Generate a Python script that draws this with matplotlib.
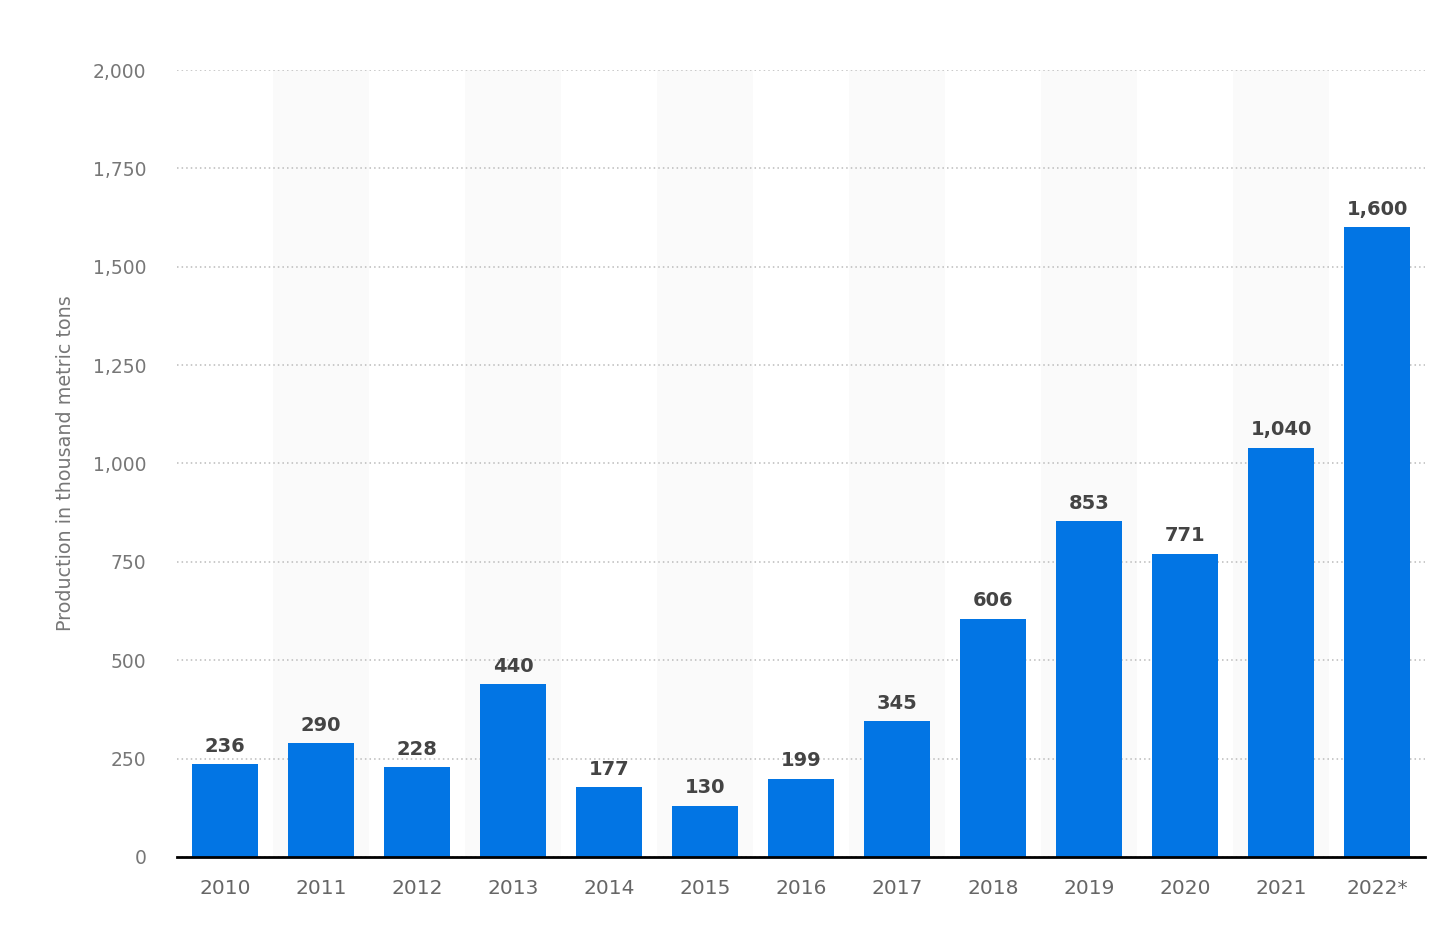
import matplotlib
matplotlib.use("Agg")
import matplotlib.pyplot as plt
from matplotlib.ticker import FuncFormatter

years = ["2010", "2011", "2012", "2013", "2014", "2015", "2016", "2017",
         "2018", "2019", "2020", "2021", "2022*"]
production = [236, 290, 228, 440, 177, 130, 199, 345, 606, 853, 771, 1040, 1600]
y_ticks = [0, 250, 500, 750, 1000, 1250, 1500, 1750, 2000]
y_label = "Production in thousand metric tons"

plt.rcParams['font.family'] = ['DejaVu Sans']

fig = plt.figure(figsize=(14.5, 9.46), dpi=100)
ax = fig.add_axes([0.1221, 0.0941, 0.8607, 0.8319])

x = list(range(len(years)))
# alternating background bands
for i in x:
    if i % 2 == 1:
        ax.axvspan(i - 0.5, i + 0.5, ymin=0, ymax=1, color="#fafafa", zorder=0, lw=0)

ax.set_ylim(0, 2000)
ax.set_xlim(-0.5, len(years) - 0.5)
ax.set_yticks(y_ticks)
ax.yaxis.set_major_formatter(FuncFormatter(lambda v, p: f"{int(v):,}"))
ax.grid(axis="y", linestyle=(0, (1, 2)), color="#bbbbbb", linewidth=1.1, zorder=1)
ax.set_axisbelow(True)

bars = ax.bar(x, production, width=0.69, color="#0275e4", zorder=3)
for xi, v in zip(x, production):
    ax.annotate(f"{v:,}", (xi, v), xytext=(0, 6), textcoords="offset points",
                ha="center", va="bottom", fontsize=14, fontweight="bold",
                color="#444444", zorder=4)

ax.set_xticks(x)
ax.set_xticklabels(years)
for s in ["top", "right", "left"]:
    ax.spines[s].set_visible(False)
ax.spines["bottom"].set_color("#000000")
ax.spines["bottom"].set_linewidth(2)
ax.spines["bottom"].set_zorder(5)
ax.tick_params(axis="x", length=0, pad=16, labelsize=14.5, labelcolor="#666666")
ax.tick_params(axis="y", length=0, pad=22, labelsize=13.5, labelcolor="#777777")
ax.set_ylabel(y_label, fontsize=13.8, color="#777777", labelpad=13)

fig.savefig("out.png", dpi=100, facecolor="white")
